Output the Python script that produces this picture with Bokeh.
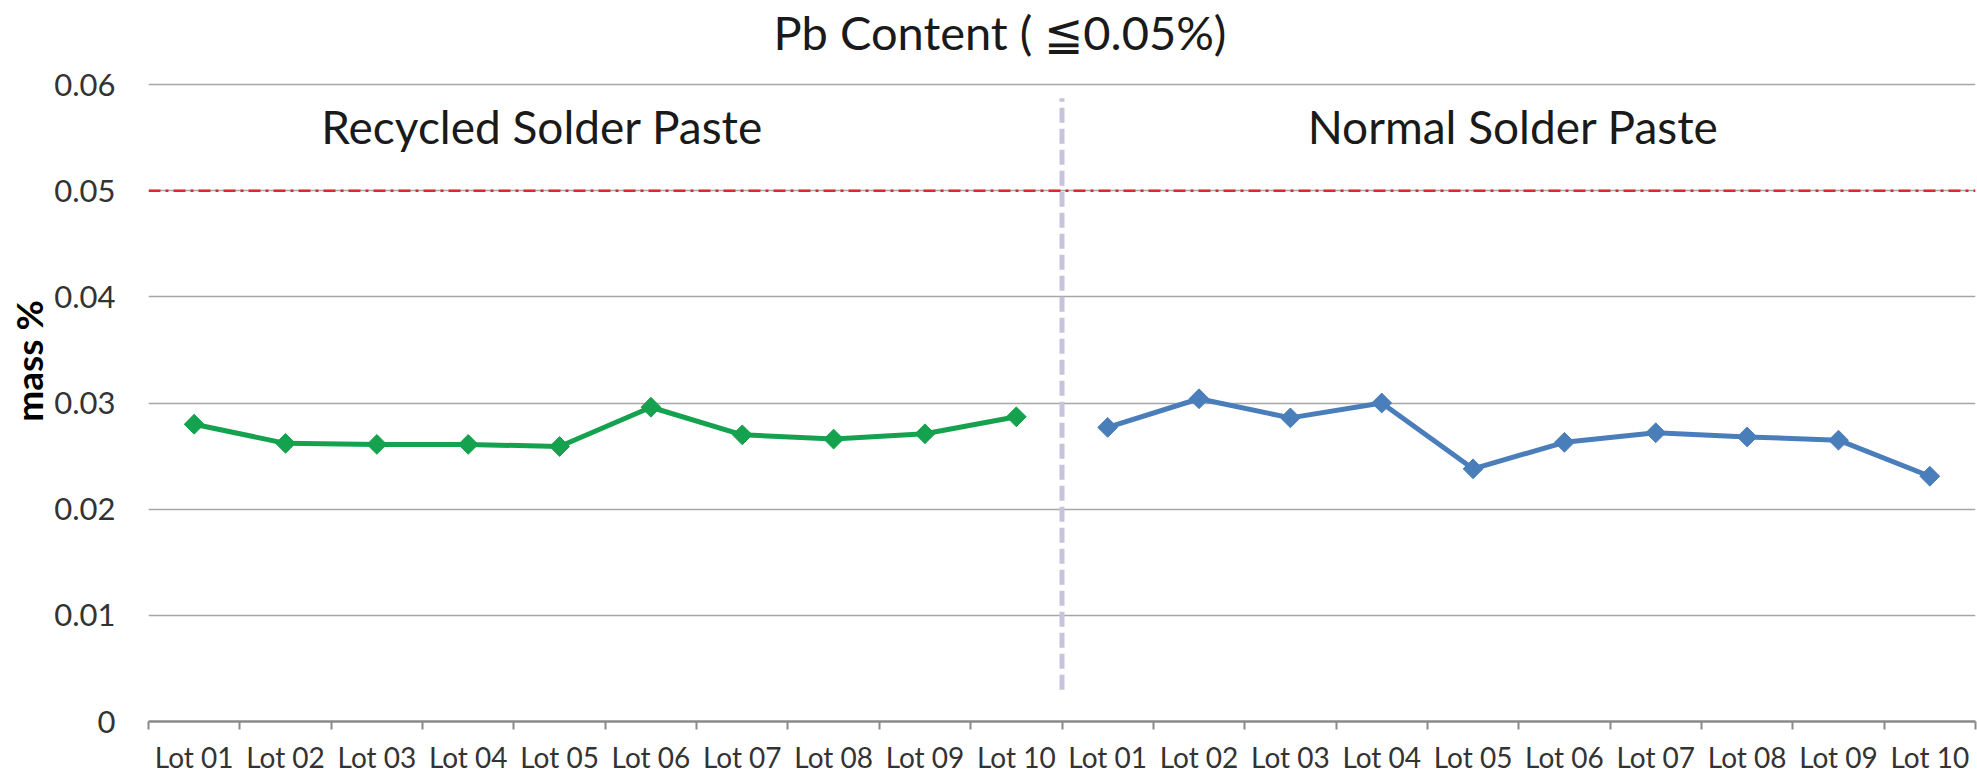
import numpy as np
from bokeh.plotting import figure
from bokeh.models import FixedTicker, Span, ColumnDataSource, Range1d
from bokeh.core.properties import value
from bokeh.embed import file_html
from bokeh.resources import INLINE

# ---- data ----
lots = ["Lot 01", "Lot 02", "Lot 03", "Lot 04", "Lot 05",
        "Lot 06", "Lot 07", "Lot 08", "Lot 09", "Lot 10"]
recycled = [0.0280, 0.0262, 0.0261, 0.0261, 0.0259, 0.0296, 0.0270, 0.0266, 0.0271, 0.0287]
normal = [0.0277, 0.0304, 0.0286, 0.0300, 0.0238, 0.0263, 0.0272, 0.0268, 0.0265, 0.0231]
limit = 0.05
y_ticks = [0, 0.01, 0.02, 0.03, 0.04, 0.05, 0.06]
y_tick_labels = ["0", "0.01", "0.02", "0.03", "0.04", "0.05", "0.06"]
title_text = "Pb Content ( \u22660.05%)"
group_names = ["Recycled Solder Paste", "Normal Solder Paste"]
y_label = "mass %"

FONT = "Lato"
n = len(lots)
all_labels = lots + lots
x_centers = [i + 0.5 for i in range(2 * n)]

# frame spans the full height above the axis so the title can sit inside it;
# the 0.06 gridline stays at the same pixel row as in the original
y_top = 0.06 * 721 / 637

p = figure(width=1977, height=776, output_backend="svg", toolbar_location=None,
           x_range=Range1d(0, 2 * n), y_range=Range1d(0, y_top),
           min_border_left=148, min_border_right=2, min_border_top=0, min_border_bottom=55)
p.outline_line_color = None
p.background_fill_color = "white"

# x axis
xa = p.xaxis[0]
xa.ticker = FixedTicker(ticks=x_centers, minor_ticks=list(range(2 * n + 1)))
xa.major_label_overrides = {x: lab for x, lab in zip(x_centers, all_labels)}
xa.major_tick_out = 0
xa.major_tick_in = 0
xa.minor_tick_out = 8
xa.minor_tick_in = 0
xa.minor_tick_line_color = "#8a8a8a"
xa.minor_tick_line_width = 2
xa.axis_line_color = "#8a8a8a"
xa.axis_line_width = 2.5
xa.major_label_text_font = FONT
xa.major_label_text_font_size = "28px"
xa.major_label_text_color = "#333333"
xa.major_label_standoff = 10
xa.major_label_text_line_height = 0.8

# y axis
ya = p.yaxis[0]
ya.ticker = FixedTicker(ticks=y_ticks)
ya.major_label_overrides = {t: s for t, s in zip(y_ticks, y_tick_labels)}
ya.axis_line_color = None
ya.major_tick_line_color = None
ya.minor_tick_line_color = None
ya.major_label_text_font = FONT
ya.major_label_text_font_size = "31px"
ya.major_label_text_color = "#333333"
ya.major_label_standoff = 27
ya.axis_label = y_label
ya.axis_label_text_font = FONT
ya.axis_label_text_font_size = "37px"
ya.axis_label_text_font_style = "bold"
ya.axis_label_text_color = "#000000"
ya.axis_label_standoff = 0

p.xgrid.visible = False
p.ygrid.ticker = FixedTicker(ticks=y_ticks)
p.ygrid.grid_line_color = "#a6a6a6"
p.ygrid.grid_line_width = 1.5

# limit line
p.add_layout(Span(location=limit, dimension="width", line_color="#e3262b",
                  line_width=2.5, line_dash="12 5 3 5"))

# separator
p.segment(x0=[n], y0=[0.003], x1=[n], y1=[0.0587], line_color="#c8c2dc",
          line_width=5, line_dash="15 6")

# series
src_r = ColumnDataSource(dict(x=x_centers[:n], y=recycled))
src_n = ColumnDataSource(dict(x=x_centers[n:], y=normal))
green = "#14a24e"
blue = "#4a7ebb"
p.line("x", "y", source=src_r, line_color=green, line_width=5)
p.scatter("x", "y", source=src_r, marker="square", angle=np.pi / 4, size=14,
          fill_color=green, line_color=green)
p.line("x", "y", source=src_n, line_color=blue, line_width=5)
p.scatter("x", "y", source=src_n, marker="square", angle=np.pi / 4, size=14,
          fill_color=blue, line_color=blue)

# group labels
p.text(x=[4.31, 14.94], y=[0.05604, 0.05604], text=group_names,
       text_font=value(FONT), text_font_size="46px", text_color="#1a1a1a",
       text_align="center", text_baseline="middle")

# chart title
p.text(x=[6.842], y=[0.0649], text=[title_text],
       text_font=value(FONT), text_font_size="47px", text_color="#1a1a1a",
       text_align="left", text_baseline="middle")

open("out.html", "w").write(file_html(p, INLINE))
